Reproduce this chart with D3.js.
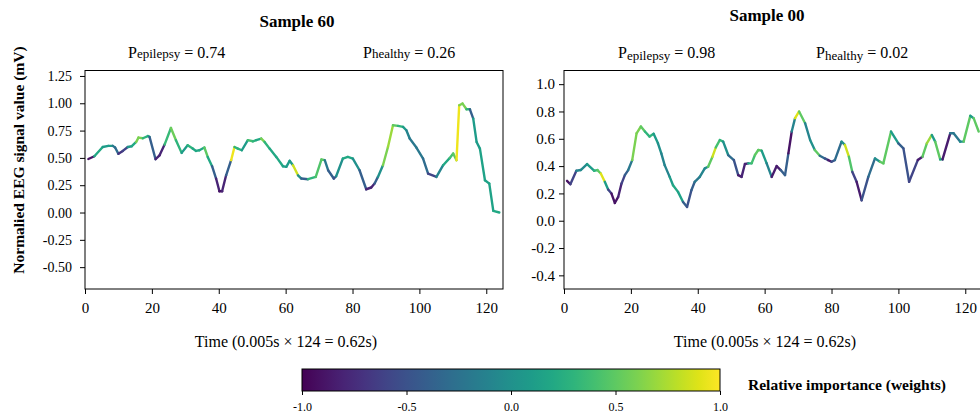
<!DOCTYPE html>
<html>
<head>
<meta charset="utf-8">
<script src="https://cdn.jsdelivr.net/npm/d3@7"></script>
<style>
  body { margin: 0; background: #fff; }
  svg { display: block; font-family: "Liberation Serif", "DejaVu Serif", serif; }
  svg text { font-family: "Liberation Serif", "DejaVu Serif", serif; }
</style>
</head>
<body>
<svg id="chart" width="980" height="414"></svg>
<script>
// ---- sample 60 (left panel) ----
const left_t = [1.0, 2.8, 5.3, 7.0, 8.3, 9.0, 10.0, 11.3, 12.8, 14.0, 15.3, 16.0, 17.3, 18.8, 19.3, 21.1, 22.3, 23.8, 25.7, 27.2,
  28.9, 30.7, 32.2, 33.2, 34.2, 35.7, 36.7, 38.0, 39.2, 40.2, 41.0, 42.2, 43.7, 44.7, 45.7, 46.9, 48.7, 50.2, 51.2, 52.7,
  53.7, 55.2, 57.2, 59.2, 60.2, 61.2, 62.2, 63.7, 64.7, 66.7, 69.0, 70.7, 71.7, 72.7, 74.4, 75.1, 77.1, 78.6, 80.1, 82.1,
  84.1, 85.6, 86.6, 87.6, 89.1, 90.6, 92.1, 93.6, 95.1, 96.1, 97.1, 99.1, 101.1, 102.6, 105.1, 107.1, 109.1, 110.1, 111.1, 111.9,
  112.9, 114.1, 115.1, 116.1, 117.1, 118.1, 119.6, 120.9, 122.1, 123.9];
const left_v = [0.49, 0.515, 0.60, 0.61, 0.61, 0.595, 0.537, 0.564, 0.60, 0.607, 0.646, 0.686, 0.68, 0.70, 0.692, 0.488, 0.524, 0.622, 0.774, 0.662,
  0.546, 0.616, 0.585, 0.564, 0.57, 0.595, 0.509, 0.424, 0.311, 0.195, 0.195, 0.341, 0.479, 0.60, 0.585, 0.57, 0.662, 0.652, 0.662, 0.677,
  0.646, 0.585, 0.509, 0.424, 0.418, 0.473, 0.433, 0.341, 0.311, 0.305, 0.326, 0.485, 0.479, 0.387, 0.311, 0.332, 0.494, 0.509, 0.494, 0.387,
  0.213, 0.229, 0.265, 0.326, 0.433, 0.60, 0.799, 0.793, 0.784, 0.753, 0.677, 0.595, 0.494, 0.357, 0.326, 0.433, 0.50, 0.54, 0.479, 0.982,
  0.997, 0.945, 0.945, 0.86, 0.646, 0.585, 0.296, 0.265, 0.015, 0.0];
const left_w = [-0.9, 0.2, 0.1, 0.1, -0.2, -0.3, -0.7, -0.6, 0.05, 0.2, 0.6, 0.6, 0.3, 0.2, -0.4, -0.8, -0.8, 0.35, 0.55, 0.3,
  0.1, 0.3, 0.2, 0.2, 0.2, 0.5, 0.2, -0.4, -0.8, -0.9, -0.8, -0.4, 0.95, 0.3, 0.3, 0.1, 0.4, 0.3, 0.2, 0.6,
  0.3, 0.2, 0.2, 0.15, 0.1, 0.1, 0.85, 0.0, -0.4, 0.3, 0.45, 0.5, -0.2, -0.4, -0.5, 0.0, 0.2, 0.2, 0.0, -0.4,
  -0.8, -0.8, -0.4, 0.0, 0.6, 0.7, 0.5, 0.3, 0.1, -0.1, -0.2, -0.2, -0.3, -0.6, -0.1, 0.2, 0.4, 0.5, 0.95, 0.6,
  0.6, 0.3, -0.4, 0.1, 0.1, 0.15, 0.15, 0.15, 0.2, 0.2];

// ---- sample 00 (right panel) ----
const right_t = [0.9, 1.9, 3.7, 5.0, 6.9, 9.0, 10.0, 11.0, 12.2, 13.2, 14.2, 15.2, 16.2, 17.2, 18.2, 19.2, 20.4, 21.7, 23.0, 24.2,
  25.6, 26.8, 28.1, 29.1, 30.1, 31.6, 32.6, 34.1, 35.6, 36.8, 38.1, 39.1, 40.6, 42.1, 43.1, 44.4, 45.4, 46.6, 47.6, 49.1,
  50.8, 52.1, 53.1, 54.1, 55.1, 56.1, 57.1, 58.1, 59.1, 60.6, 62.1, 63.6, 64.8, 66.1, 67.1, 68.1, 69.1, 70.3, 72.1, 73.6,
  75.0, 76.5, 78.0, 79.0, 80.0, 81.0, 83.0, 84.0, 85.2, 86.2, 87.5, 89.0, 91.0, 93.0, 94.5, 95.5, 97.8, 100.0, 101.5, 103.2,
  105.8, 107.2, 108.5, 110.0, 111.0, 112.5, 113.2, 115.5, 116.5, 118.5, 119.5, 121.5, 122.5, 124.0];
const right_v = [0.292, 0.267, 0.366, 0.371, 0.415, 0.366, 0.371, 0.346, 0.285, 0.228, 0.199, 0.130, 0.174, 0.272, 0.334, 0.371, 0.444, 0.640, 0.690, 0.653,
  0.616, 0.636, 0.567, 0.493, 0.407, 0.321, 0.260, 0.211, 0.137, 0.101, 0.223, 0.285, 0.321, 0.383, 0.395, 0.469, 0.537, 0.591, 0.579, 0.481,
  0.444, 0.334, 0.321, 0.415, 0.420, 0.420, 0.481, 0.518, 0.513, 0.420, 0.321, 0.400, 0.371, 0.334, 0.493, 0.653, 0.751, 0.800, 0.714, 0.591,
  0.518, 0.476, 0.456, 0.444, 0.432, 0.444, 0.579, 0.555, 0.469, 0.358, 0.285, 0.150, 0.321, 0.456, 0.432, 0.420, 0.653, 0.567, 0.530, 0.285,
  0.444, 0.469, 0.567, 0.628, 0.579, 0.449, 0.449, 0.640, 0.640, 0.579, 0.579, 0.768, 0.751, 0.653];
const right_w = [-0.9, -0.6, -0.1, -0.05, 0.1, 0.3, 0.5, 0.9, 0.1, -0.6, -0.9, -0.9, -0.8, -0.6, -0.4, -0.2, 0.6, 0.6, 0.5, 0.3,
  0.3, 0.1, 0.0, -0.1, -0.1, 0.1, 0.2, 0.15, -0.4, -0.5, -0.4, -0.2, -0.1, -0.05, 0.5, 0.85, 0.4, 0.3, 0.0, -0.3,
  -0.5, -0.85, -0.8, -0.8, 0.2, 0.4, 0.5, 0.5, 0.1, -0.1, -0.85, -0.85, -0.4, -0.4, -0.9, -0.1, 0.9, 0.5, -0.1, 0.0,
  0.5, -0.3, -0.5, -0.85, -0.5, -0.3, 0.0, 0.85, 0.45, -0.6, -0.85, -0.5, -0.3, 0.0, 0.5, 0.5, 0.1, -0.4, -0.5, -0.6,
  -0.85, 0.5, 0.7, 0.1, 0.5, 0.1, -0.85, -0.2, -0.2, 0.0, 0.5, 0.1, 0.5, 0.5];

// ticks / labels
const xTicks = [0, 20, 40, 60, 80, 100, 120];
const leftYTicks = [1.25, 1.0, 0.75, 0.5, 0.25, 0, -0.25, -0.5];
const rightYTicks = [1.0, 0.8, 0.6, 0.4, 0.2, 0, -0.2, -0.4];
const cbarTicks = [-1.0, -0.5, 0.0, 0.5, 1.0];
const titles = ["Sample 60", "Sample 00"];
const pEpilepsy = ["0.74", "0.98"];
const pHealthy = ["0.26", "0.02"];

const svg = d3.select("#chart");
const FONT = '"Liberation Serif", "DejaVu Serif", serif';
const locale = d3.formatLocale({ decimal: ".", thousands: ",", grouping: [3], currency: ["", ""], minus: "-" });
const color = (w) => d3.interpolateViridis((w + 1) / 2);

svg.append("rect").attr("width", 980).attr("height", 414).attr("fill", "#fff");

function styleAxis(a, size) {
  a.select(".domain").remove();
  a.attr("font-family", null).attr("font-size", null);
  a.selectAll("text").style("font-family", FONT).style("font-size", size + "px");
}

function drawPanel(p) {
  const x = d3.scaleLinear().domain([0, 125]).range([p.left, p.left + 418]);
  const y = d3.scaleLinear().domain(p.yDomain).range([289, 70.5]);
  const g = svg.append("g");

  // coloured segments, one per step
  const n = Math.min(p.t.length, p.v.length);
  const segs = d3.range(n - 1).map((i) => ({
    t1: p.t[i], v1: p.v[i], t2: p.t[i + 1], v2: p.v[i + 1], w: p.w[i],
  }));
  g.selectAll("line.seg")
    .data(segs)
    .enter()
    .append("line")
    .attr("class", "seg")
    .attr("x1", (d) => x(d.t1))
    .attr("y1", (d) => y(d.v1))
    .attr("x2", (d) => x(d.t2))
    .attr("y2", (d) => y(d.v2))
    .attr("stroke", (d) => color(d.w))
    .attr("stroke-width", 2.4)
    .attr("stroke-linecap", "round");

  // frame
  g.append("rect")
    .attr("x", p.left)
    .attr("y", 70.5)
    .attr("width", 418)
    .attr("height", 218.5)
    .attr("fill", "none")
    .attr("stroke", "#000")
    .attr("stroke-width", 1);

  // axes
  const yAxis = d3.axisLeft(y).tickValues(p.yTicks).tickSize(5).tickPadding(p.yPad).tickFormat(locale.format(p.yFmt));
  g.append("g")
    .attr("transform", `translate(${p.left},0)`)
    .call(yAxis)
    .call((a) => styleAxis(a, p.yFont));

  const xAxis = d3.axisBottom(x).tickValues(xTicks).tickSize(5).tickPadding(8).tickFormat(d3.format("d"));
  g.append("g")
    .attr("transform", "translate(0,289)")
    .call(xAxis)
    .call((a) => styleAxis(a, 15));

  // titles
  g.append("text")
    .attr("x", p.titleX)
    .attr("y", p.titleY)
    .attr("text-anchor", "middle")
    .style("font-size", "17px")
    .style("font-weight", "bold")
    .text(p.title);

  const pe = g.append("text").attr("x", p.peX).attr("y", 58).style("font-size", "16px");
  pe.append("tspan").text("P");
  pe.append("tspan").attr("dy", p.subDy).style("font-size", "13px").text("epilepsy");
  pe.append("tspan").attr("dy", -p.subDy).text(" = " + p.pe);

  const ph = g.append("text").attr("x", p.phX).attr("y", 58).style("font-size", "16px");
  ph.append("tspan").text("P");
  ph.append("tspan").attr("dy", p.subDy).style("font-size", "13px").text("healthy");
  ph.append("tspan").attr("dy", -p.subDy).text(" = " + p.ph);

  g.append("text")
    .attr("x", p.left + 201)
    .attr("y", 347)
    .attr("text-anchor", "middle")
    .style("font-size", "16px")
    .text("Time (0.005s \u00d7 124 = 0.62s)");
}

drawPanel({
  left: 85, t: left_t, v: left_v, w: left_w, yDomain: [-0.7, 1.3], yTicks: leftYTicks, yFmt: ".2f",
  yPad: 8, yFont: 14, title: titles[0], titleX: 297, titleY: 27, pe: pEpilepsy[0], ph: pHealthy[0],
  peX: 128, phX: 363, subDy: 0,
});
drawPanel({
  left: 564, t: right_t, v: right_v, w: right_w, yDomain: [-0.5, 1.1], yTicks: rightYTicks, yFmt: ".1f",
  yPad: 4, yFont: 15, title: titles[1], titleX: 767, titleY: 21, pe: pEpilepsy[1], ph: pHealthy[1],
  peX: 618, phX: 816, subDy: 2,
});

// y label
svg.append("text")
  .attr("transform", "translate(24,160) rotate(-90)")
  .attr("text-anchor", "middle")
  .style("font-size", "15.5px")
  .style("font-weight", "bold")
  .text("Normalied EEG signal value (mV)");

// colour bar
const cb = d3.scaleLinear().domain([-1, 1]).range([302, 720]);
const defs = svg.append("defs");
const grad = defs.append("linearGradient").attr("id", "viridis").attr("x1", "0%").attr("x2", "100%");
d3.range(0, 1.0001, 0.05).forEach((s) => {
  grad.append("stop").attr("offset", `${s * 100}%`).attr("stop-color", d3.interpolateViridis(s));
});
svg.append("rect")
  .attr("x", cb(-1))
  .attr("y", 369)
  .attr("width", cb(1) - cb(-1))
  .attr("height", 22)
  .attr("fill", "url(#viridis)")
  .attr("stroke", "#000")
  .attr("stroke-width", 1);

svg.append("g")
  .attr("transform", "translate(0,391)")
  .call(d3.axisBottom(cb).tickValues(cbarTicks).tickSize(4).tickPadding(7).tickFormat(locale.format(".1f")))
  .call((a) => styleAxis(a, 12));

svg.append("text")
  .attr("x", 748)
  .attr("y", 390)
  .style("font-size", "15.5px")
  .style("font-weight", "bold")
  .text("Relative importance (weights)");
</script>
</body>
</html>
